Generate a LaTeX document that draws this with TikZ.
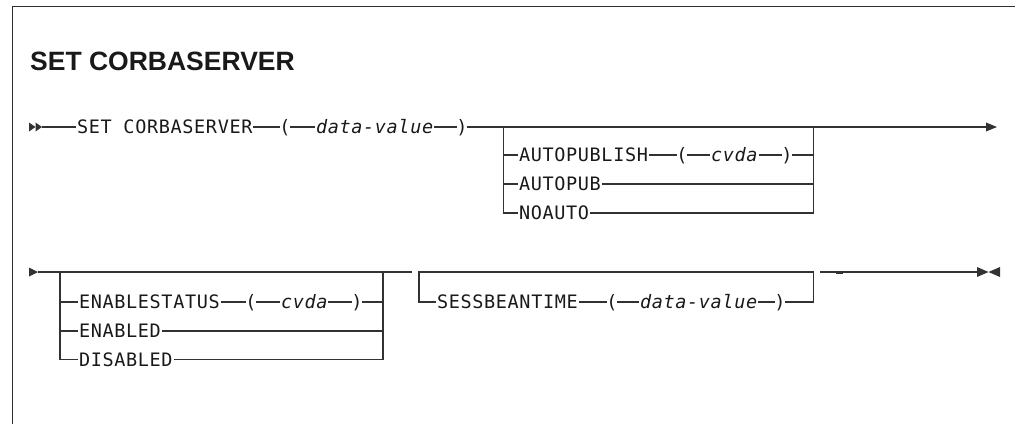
\documentclass[tikz,border=0pt]{standalone}
\usepackage{fontspec}
\setmainfont{Liberation Sans}
\newfontfamily\synfont[LetterSpace=3.5]{DejaVu Sans Mono}
\definecolor{linecol}{RGB}{50,50,50}
\definecolor{txtcol}{RGB}{25,25,25}
\definecolor{framecol}{RGB}{45,45,45}
\tikzset{
  rr/.style={line width=1.3pt, draw=linecol},
  kw/.style={font=\synfont\fontsize{18.5}{21}\selectfont, text=txtcol, inner xsep=1pt, inner ysep=0pt, outer sep=0pt, text height=13.4pt, text depth=0pt, anchor=west},
  var/.style={kw, font=\synfont\itshape\fontsize{18.5}{21}\selectfont},
  par/.style={kw, anchor=center, inner xsep=-0.5pt},
  tipfill/.style={fill=linecol, draw=none},
  ttl/.style={font=\bfseries\fontsize{26.5}{30}\selectfont, text=txtcol, anchor=base west, inner sep=0pt}
}
\begin{document}
\begin{tikzpicture}[x=1pt,y=-1pt]
\useasboundingbox (0,0) rectangle (1015,424);
% frame
\draw[line width=1.3pt, draw=framecol] (12.7,424) -- (12.7,6.7) -- (1015,6.7);
% title
\node[ttl] (title) at (30,70) {SET CORBASERVER};

% ---------- line 1 ----------
\coordinate (s1) at (42,127);
\fill[tipfill] (29,122.5) -- (35.5,127) -- (29,131.5) -- cycle;
\fill[tipfill] (35.5,122.5) -- (42,127) -- (35.5,131.5) -- cycle;
\node[kw] (set) at (76,127) {SET CORBASERVER};
\node[par] (lp1) at (285,127) {(};
\node[var] (dv1) at (315,127) {data-value};
\node[par] (rp1) at (462,127) {)};
\coordinate (e1) at (987,127);
\fill[tipfill] (986,122.5) -- (997,127) -- (986,131.5) -- cycle;
\draw[rr] (s1) -- (set.west) (set.east) -- (lp1.west) (lp1.east) -- (dv1.west)
          (dv1.east) -- (rp1.west) (rp1.east) -- (e1);

% branch 1
\coordinate (b1l) at (503.5,127);
\coordinate (b1r) at (813.5,127);
\node[kw] (ap) at (518,155) {AUTOPUBLISH};
\node[par] (lp2) at (682,155) {(};
\node[var] (cv1) at (710,155) {cvda};
\node[par] (rp2) at (787,155) {)};
\node[kw] (apb) at (518,184) {AUTOPUB};
\node[kw] (noa) at (518,213) {NOAUTO};
\draw[rr] (b1l) |- (noa.west);
\draw[rr] (b1l |- ap) -- (ap.west);
\draw[rr] (b1l |- apb) -- (apb.west);
\draw[rr] (ap.east) -- (lp2.west) (lp2.east) -- (cv1.west) (cv1.east) -- (rp2.west) (rp2.east) -- (b1r |- rp2);
\draw[rr] (apb.east) -- (b1r |- apb);
\draw[rr] (noa.east) -| (b1r);

% ---------- line 2 ----------
\coordinate (s2) at (38,272);
\fill[tipfill] (29,267.5) -- (38,272) -- (29,276.5) -- cycle;
\coordinate (g1) at (412,272);
\draw[rr] (s2) -- (g1);

% branch 2
\coordinate (b2l) at (60,272);
\coordinate (b2r) at (383,272);
\node[kw] (es) at (78,302) {ENABLESTATUS};
\node[par] (lp3) at (251,302) {(};
\node[var] (cv2) at (280,302) {cvda};
\node[par] (rp3) at (357,302) {)};
\node[kw] (en) at (78,331) {ENABLED};
\node[kw] (di) at (78,359.5) {DISABLED};
\draw[rr] (b2l) |- (di.west);
\draw[rr] (b2l |- es) -- (es.west);
\draw[rr] (b2l |- en) -- (en.west);
\draw[rr] (es.east) -- (lp3.west) (lp3.east) -- (cv2.west) (cv2.east) -- (rp3.west) (rp3.east) -- (b2r |- rp3);
\draw[rr] (en.east) -- (b2r |- en);
\draw[rr] (di.east) -| (b2r);

% branch 3
\coordinate (b3l) at (419,272);
\coordinate (b3r) at (813.5,272);
\node[kw] (sb) at (436,302) {SESSBEANTIME};
\node[par] (lp4) at (612,302) {(};
\node[var] (dv2) at (639,302) {data-value};
\node[par] (rp4) at (780,302) {)};
\draw[rr] (b3r) -- (b3l) |- (sb.west);
\draw[rr] (sb.east) -- (lp4.west) (lp4.east) -- (dv2.west) (dv2.east) -- (rp4.west) (rp4.east) -| (b3r);

% end of line 2
\coordinate (g2) at (820,272);
\coordinate (e2) at (978,272);
\draw[rr] (g2) -- (e2);
\draw[rr, line width=1.9pt] (836,272.6) -- (843,272.6);
\fill[tipfill] (977,267) -- (988.5,272) -- (977,277) -- cycle;
\fill[tipfill] (1000,267) -- (988.5,272) -- (1000,277) -- cycle;
\end{tikzpicture}
\end{document}
